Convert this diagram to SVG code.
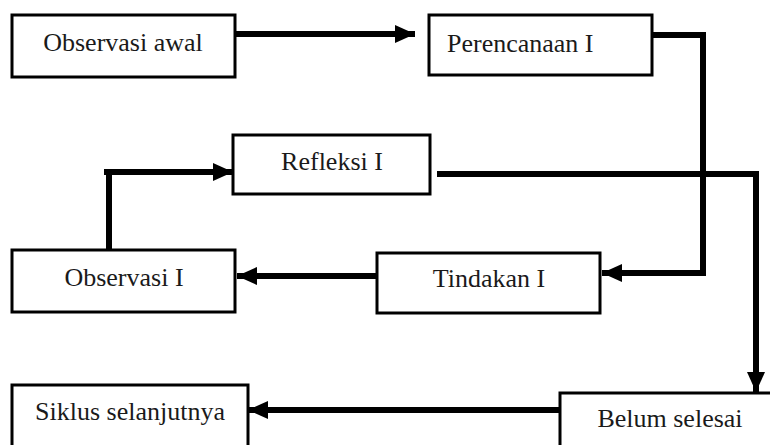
<svg xmlns="http://www.w3.org/2000/svg" width="770" height="445" viewBox="0 0 770 445">
<defs>
<style>
.box{fill:#fff;stroke:#000;stroke-width:3}
.lbl{font-family:'Liberation Serif','Times New Roman',serif;font-size:26px;fill:#1a1a1a}
.con{fill:none;stroke:#000;stroke-width:6;stroke-linejoin:miter}
</style>
<marker id="ah" markerWidth="20" markerHeight="18" refX="20" refY="9" orient="auto" markerUnits="userSpaceOnUse">
<path d="M0,0 L20,9 L0,18 Z" fill="#000"/>
</marker>
</defs>
<rect width="770" height="445" fill="#fff"/>
<g id="connectors">
<path class="con" d="M235,34 H415" marker-end="url(#ah)"/>
<path class="con" d="M652,35 H703 V273 H602" marker-end="url(#ah)"/>
<path class="con" d="M377,276 H237" marker-end="url(#ah)"/>
<path class="con" d="M109,250 V172 H104 M106,172 H233" marker-end="url(#ah)"/>
<path class="con" d="M437,174 H756 V392" marker-end="url(#ah)"/>
<path class="con" d="M560,410 H248" marker-end="url(#ah)"/>
</g>
<g id="observasi-awal">
<rect class="box" x="12" y="15" width="223" height="62"/>
<text class="lbl" x="123" y="51" text-anchor="middle">Observasi awal</text>
</g>
<g id="perencanaan">
<rect class="box" x="429" y="15" width="223" height="60"/>
<text class="lbl" x="447" y="52">Perencanaan I</text>
</g>
<g id="refleksi">
<rect class="box" x="233" y="135" width="197" height="59"/>
<text class="lbl" x="332" y="170" text-anchor="middle">Refleksi I</text>
</g>
<g id="observasi-i">
<rect class="box" x="12" y="250" width="223" height="62"/>
<text class="lbl" x="124" y="286" text-anchor="middle">Observasi I</text>
</g>
<g id="tindakan">
<rect class="box" x="377" y="253" width="223" height="60"/>
<text class="lbl" x="489" y="287" text-anchor="middle">Tindakan I</text>
</g>
<g id="siklus">
<rect class="box" x="12" y="385" width="236" height="70"/>
<text class="lbl" x="130" y="420" text-anchor="middle">Siklus selanjutnya</text>
</g>
<g id="belum-selesai">
<rect class="box" x="560" y="393" width="220" height="62"/>
<text class="lbl" x="670" y="427" text-anchor="middle">Belum selesai</text>
</g>
</svg>
